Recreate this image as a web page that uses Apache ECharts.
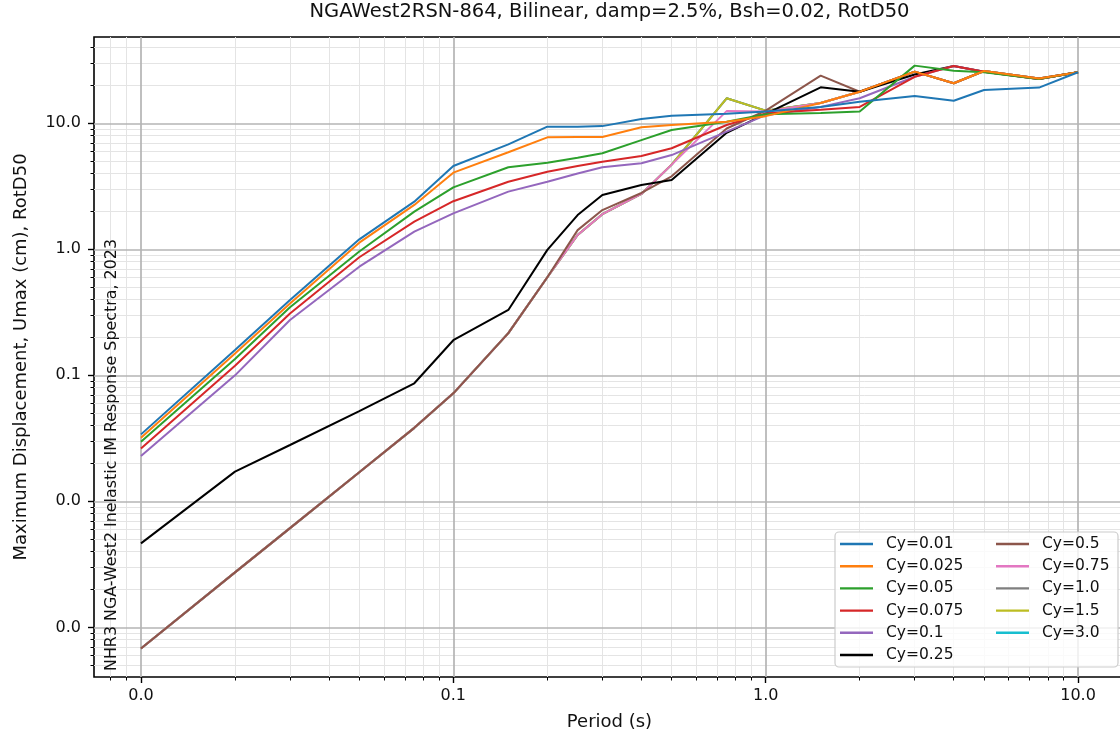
<!DOCTYPE html>
<html>
<head>
<meta charset="utf-8">
<script src="https://cdn.jsdelivr.net/npm/echarts@6/dist/echarts.min.js"></script>
<style>
  html, body { margin: 0; padding: 0; background: #ffffff; }
  #chart { width: 1120px; height: 744px; }
</style>
</head>
<body>
<div id="chart"></div>
<script>
// Oscillator periods (s)
const periods = [0.01, 0.02, 0.03, 0.05, 0.075, 0.1, 0.15, 0.2, 0.25, 0.3, 0.4, 0.5, 0.75, 1.0, 1.5, 2.0, 3.0, 4.0, 5.0, 7.5, 10.0];

// Maximum displacement Umax (cm) for each yield coefficient Cy
const cy001  = [0.034, 0.159, 0.396, 1.20, 2.39, 4.58, 6.8, 9.4, 9.4, 9.5, 10.8, 11.5, 11.9, 12.4, 13.5, 14.8, 16.5, 15.1, 18.4, 19.2, 25.4];
const cy0025 = [0.032, 0.149, 0.372, 1.13, 2.25, 4.06, 5.9, 7.74, 7.8, 7.8, 9.3, 9.7, 10.3, 11.4, 14.5, 17.8, 25.7, 20.8, 26.0, 22.7, 25.4];
const cy005  = [0.0297, 0.135, 0.347, 0.96, 1.99, 3.1, 4.48, 4.87, 5.33, 5.78, 7.36, 8.85, 10.3, 11.8, 12.1, 12.4, 28.7, 26.1, 25.4, 22.5, 25.4];
const cy0075 = [0.0263, 0.119, 0.31, 0.865, 1.66, 2.41, 3.44, 4.13, 4.58, 4.96, 5.5, 6.34, 9.7, 12.0, 12.8, 13.5, 23.4, 28.5, 25.7, 22.5, 25.4];
const cy01   = [0.0229, 0.10, 0.275, 0.728, 1.38, 1.93, 2.87, 3.44, 4.0, 4.48, 4.82, 5.6, 8.6, 11.6, 13.5, 15.8, 23.4, 28.5, 25.7, 22.5, 25.4];
const cy025  = [0.00464, 0.0172, 0.028, 0.052, 0.0865, 0.19, 0.33, 0.99, 1.87, 2.7, 3.24, 3.55, 8.4, 11.9, 19.3, 17.8, 24.4, 28.5, 25.7, 22.5, 25.4];
const cy05   = [0.00068, 0.00273, 0.00613, 0.017, 0.0383, 0.072, 0.216, 0.6, 1.42, 2.05, 2.8, 3.8, 9.1, 12.6, 23.9, 17.8, 25.7, 20.8, 26.0, 22.7, 25.4];
const cy075  = [0.00068, 0.00273, 0.00613, 0.017, 0.0383, 0.072, 0.216, 0.6, 1.30, 1.9, 2.75, 4.7, 12.5, 12.4, 14.5, 17.8, 25.7, 20.8, 26.0, 22.7, 25.4];
const cy10   = [0.00068, 0.00273, 0.00613, 0.017, 0.0383, 0.072, 0.216, 0.6, 1.30, 1.9, 2.75, 4.7, 15.8, 12.6, 14.5, 17.8, 25.7, 20.8, 26.0, 22.7, 25.4];
const cy15   = [0.00068, 0.00273, 0.00613, 0.017, 0.0383, 0.072, 0.216, 0.6, 1.30, 1.9, 2.75, 4.7, 15.8, 12.6, 14.5, 17.8, 25.7, 20.8, 26.0, 22.7, 25.4];
const cy30   = [0.00068, 0.00273, 0.00613, 0.017, 0.0383, 0.072, 0.216, 0.6, 1.30, 1.9, 2.75, 4.7, 15.8, 12.6, 14.5, 17.8, 25.7, 20.8, 26.0, 22.7, 25.4];

const seriesNames  = ['Cy=0.01', 'Cy=0.025', 'Cy=0.05', 'Cy=0.075', 'Cy=0.1', 'Cy=0.25',
                      'Cy=0.5', 'Cy=0.75', 'Cy=1.0', 'Cy=1.5', 'Cy=3.0'];
const seriesValues = [cy001, cy0025, cy005, cy0075, cy01, cy025, cy05, cy075, cy10, cy15, cy30];
const seriesColors = ['#1f77b4', '#ff7f0e', '#2ca02c', '#d62728', '#9467bd', '#000000',
                      '#8c564b', '#e377c2', '#7f7f7f', '#bcbd22', '#17becf'];

// Tick values
const xMajorTicks = [0.01, 0.1, 1, 10];
const yMajorTicks = [0.001, 0.01, 0.1, 1, 10];

const chartTitle = 'NGAWest2RSN-864, Bilinear, damp=2.5%, Bsh=0.02, RotD50';
const xTitle = 'Period (s)';
const yTitle = 'Maximum Displacement, Umax (cm), RotD50';
const sideNote = 'NHR3 NGA-West2 Inelastic IM Response Spectra, 2023';

// Axis extents (log scale, padded around the data)
const X_MIN = Math.pow(10, -2.1504);
const X_MAX = Math.pow(10, 1.1504);
const Y_MIN = Math.pow(10, -3.394);
const Y_MAX = Math.pow(10, 1.685);

// Minor log ticks at 2..9 within each decade
function minorTicks(lo, hi) {
  const out = [];
  for (let e = Math.floor(Math.log10(lo)); e <= Math.ceil(Math.log10(hi)); e++) {
    for (let k = 2; k <= 9; k++) {
      const v = k * Math.pow(10, e);
      if (v >= lo && v <= hi) out.push(Number(v.toPrecision(6)));
    }
  }
  return out;
}
const xMinorTicks = minorTicks(X_MIN, X_MAX);
const yMinorTicks = minorTicks(Y_MIN, Y_MAX);

const FONT = 'DejaVu Sans';
const fmt1 = v => Number(v).toFixed(1);

const chart = echarts.init(document.getElementById('chart'), null, { renderer: 'canvas' });

// Painting order: high-Cy curves underneath, low-Cy curves on top
const drawOrder = [10, 8, 9, 7, 6, 5, 4, 3, 2, 1, 0];
const series = drawOrder.map(i => ({
  name: seriesNames[i],
  type: 'line',
  xAxisIndex: 1,
  yAxisIndex: 1,
  data: periods.map((t, k) => [t, seriesValues[i][k]]),
  symbol: 'none',
  showSymbol: false,
  lineStyle: { color: seriesColors[i], width: 2 },
  itemStyle: { color: seriesColors[i] },
  emphasis: { disabled: true },
  z: 3
}));

const legendCommon = {
  orient: 'vertical',
  top: 536,
  padding: 0,
  icon: 'rect',
  itemWidth: 33,
  itemHeight: 2.4,
  itemGap: 6.2,
  selectedMode: false,
  z: 120,
  textStyle: { fontFamily: FONT, fontSize: 15.5, color: '#111', lineHeight: 16, padding: [0, 0, 0, 8] }
};

const option = {
  animation: false,
  backgroundColor: '#ffffff',
  title: {
    text: chartTitle,
    left: 609.5,
    top: 2,
    padding: 0,
    textAlign: 'center',
    textStyle: { fontFamily: FONT, fontSize: 19.5, fontWeight: 'normal', color: '#111' }
  },
  grid: {
    left: 94, top: 37, width: 1031, height: 640,
    outerBoundsMode: 'none',
    containLabel: false,
    show: true, borderColor: '#000', borderWidth: 1.6, backgroundColor: 'transparent'
  },
  legend: [
    Object.assign({ left: 840, data: seriesNames.slice(0, 6) }, legendCommon),
    Object.assign({ left: 996, data: seriesNames.slice(6) }, legendCommon)
  ],
  xAxis: [
    {
      // minor grid and ticks
      type: 'log', gridIndex: 0, position: 'bottom', min: X_MIN, max: X_MAX, z: 0,
      axisLine: { show: false },
      axisTick: { show: true, customValues: xMinorTicks, length: 3.5, lineStyle: { color: '#000', width: 1 } },
      axisLabel: { show: false },
      splitLine: { show: true, lineStyle: { color: '#e4e4e4', width: 1 } }
    },
    {
      type: 'log', gridIndex: 0, position: 'bottom', min: X_MIN, max: X_MAX, z: 1,
      axisLine: { show: false },
      axisTick: { show: true, customValues: xMajorTicks, length: 6, lineStyle: { color: '#000', width: 1.4 } },
      axisLabel: {
        customValues: xMajorTicks, formatter: fmt1, margin: 11,
        fontFamily: FONT, fontSize: 16, color: '#111'
      },
      splitLine: { show: true, lineStyle: { color: '#b4b4b4', width: 1.7 } },
      name: xTitle, nameLocation: 'middle', nameGap: 36,
      nameTextStyle: { fontFamily: FONT, fontSize: 18, color: '#111' }
    }
  ],
  yAxis: [
    {
      type: 'log', gridIndex: 0, position: 'left', min: Y_MIN, max: Y_MAX, z: 0,
      axisLine: { show: false },
      axisTick: { show: true, customValues: yMinorTicks, length: 3.5, lineStyle: { color: '#000', width: 1 } },
      axisLabel: { show: false },
      splitLine: { show: true, lineStyle: { color: '#e4e4e4', width: 1 } }
    },
    {
      type: 'log', gridIndex: 0, position: 'left', min: Y_MIN, max: Y_MAX, z: 1,
      axisLine: { show: false },
      axisTick: { show: true, customValues: yMajorTicks, length: 6, lineStyle: { color: '#000', width: 1.4 } },
      axisLabel: {
        customValues: yMajorTicks, formatter: fmt1, margin: 13,
        fontFamily: FONT, fontSize: 16, color: '#111'
      },
      splitLine: { show: true, lineStyle: { color: '#b4b4b4', width: 1.7 } },
      name: yTitle, nameLocation: 'middle', nameGap: 64,
      nameTextStyle: { fontFamily: FONT, fontSize: 18, color: '#111' }
    }
  ],
  graphic: [
    {
      type: 'text',
      x: 112, y: 671,
      rotation: Math.PI / 2,
      z: 50,
      style: {
        text: sideNote,
        font: '15.9px "DejaVu Sans"',
        fill: '#111',
        textAlign: 'left',
        textVerticalAlign: 'middle'
      }
    },
    {
      type: 'rect',
      z: 100,
      shape: { x: 835, y: 532, width: 283, height: 135, r: 4 },
      style: { fill: 'rgba(255,255,255,0.8)', stroke: '#cccccc', lineWidth: 1.2 }
    }
  ],
  series: series
};

chart.setOption(option);
</script>
</body>
</html>
